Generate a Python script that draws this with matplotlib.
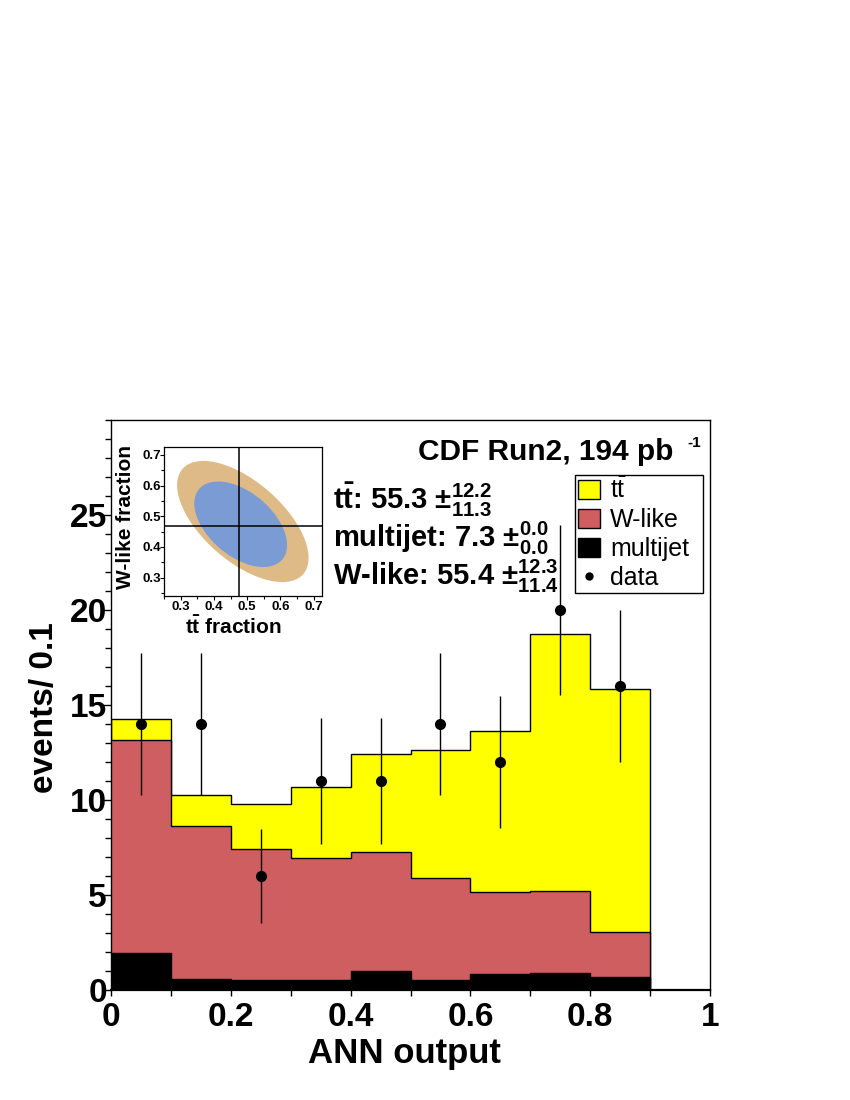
import numpy as np
import matplotlib
matplotlib.use("Agg")
import matplotlib.pyplot as plt
from matplotlib.patches import Ellipse, Patch
from matplotlib.lines import Line2D
from matplotlib.ticker import MultipleLocator, FixedLocator, FixedFormatter

plt.rcParams['font.family'] = ['Liberation Sans', 'DejaVu Sans']
plt.rcParams['mathtext.fontset'] = 'custom'
plt.rcParams['mathtext.rm'] = 'Liberation Sans:bold'
plt.rcParams['mathtext.bf'] = 'Liberation Sans:bold'
plt.rcParams['mathtext.it'] = 'Liberation Sans:bold'
plt.rcParams['mathtext.sf'] = 'Liberation Sans'
plt.rcParams['mathtext.default'] = 'rm'

# ANN output binning
bin_edges = [0.0, 0.1, 0.2, 0.3, 0.4, 0.5, 0.6, 0.7, 0.8, 0.9]
# fitted templates (events per bin), stacked multijet -> W-like -> ttbar
multijet = [1.95, 0.58, 0.54, 0.54, 1.02, 0.53, 0.83, 0.88, 0.67]
wlike = [11.23, 8.07, 6.89, 6.42, 6.26, 5.39, 4.32, 4.32, 2.37]
ttbar = [1.06, 1.63, 2.34, 3.71, 5.15, 6.70, 8.47, 13.52, 12.79]
# data
data_x = [0.05, 0.15, 0.25, 0.35, 0.45, 0.55, 0.65, 0.75, 0.85]
data_y = [14, 14, 6, 11, 11, 14, 12, 20, 16]
data_err = [3.74, 3.74, 2.45, 3.32, 3.32, 3.74, 3.46, 4.47, 4.00]

# fit results
fit_names = ["t$\\bar{t}$", "multijet", "W-like"]
fit_vals = ["55.3", "7.3", "55.4"]
fit_up = ["12.2", "0.0", "12.3"]
fit_dn = ["11.3", "0.0", "11.4"]

# likelihood contours in (ttbar fraction, W-like fraction)
best_tt = 0.474
best_w = 0.467
c2_center = (0.487, 0.483)
c2_axes = (0.50, 0.25)
c1_center = (0.4805, 0.474)
c1_axes = (0.34, 0.20)
c_angle = -45

col_tt = '#FFFF00'
col_w = '#CF5E60'
col_mj = '#000000'
col_c1 = '#7B9BD5'
col_c2 = '#DEBA87'

W, H = 850, 1100
def fx(x):
    return x / W
def fy(y):
    return 1 - y / H

fig = plt.figure(figsize=(8.5, 11), dpi=100)
ax = fig.add_axes([fx(111), fy(990), 599 / W, 570 / H])

mj = np.array(multijet)
wl = mj + np.array(wlike)
tot = wl + np.array(ttbar)
ax.stairs(tot, bin_edges, baseline=0, fill=True, facecolor=col_tt,
          edgecolor='black', linewidth=1.0, zorder=2)
ax.stairs(wl, bin_edges, baseline=0, fill=True, facecolor=col_w,
          edgecolor='black', linewidth=1.0, zorder=3)
ax.stairs(mj, bin_edges, baseline=0, fill=True, facecolor=col_mj,
          edgecolor='black', linewidth=1.0, zorder=4)
ax.errorbar(data_x, data_y, yerr=data_err, fmt='o', color='black',
            ms=7, elinewidth=1.0, capsize=0, zorder=5)

ax.set_xlim(0, 1)
ax.set_ylim(0, 30)
ax.xaxis.set_major_locator(FixedLocator([0, 0.2, 0.4, 0.6, 0.8, 1.0]))
ax.xaxis.set_major_formatter(FixedFormatter(['0', '0.2', '0.4', '0.6', '0.8', '1']))
ax.xaxis.set_minor_locator(MultipleLocator(0.1))
ax.yaxis.set_major_locator(FixedLocator([0, 5, 10, 15, 20, 25]))
ax.yaxis.set_minor_locator(MultipleLocator(1))
ax.tick_params(which='both', direction='out', top=False, right=False)
ax.tick_params(axis='x', which='major', length=4.5, width=1, pad=4,
               labelsize=24)
ax.tick_params(axis='x', which='minor', length=4.5, width=1)
ax.tick_params(axis='y', which='major', length=6, width=1, pad=-3,
               labelsize=24)
ax.tick_params(axis='y', which='minor', length=4.5, width=1)
for lab in ax.get_xticklabels() + ax.get_yticklabels():
    lab.set_fontweight('bold')
for s in ['left', 'right', 'top']:
    ax.spines[s].set_linewidth(1.0)
ax.spines['bottom'].set_linewidth(1.6)

fig.text(fx(404), fy(1063), "ANN output", ha='center', va='baseline',
         fontsize=25, fontweight='bold')
fig.text(fx(45), fy(708), "events/ 0.1", ha='center', va='center',
         rotation=90, fontsize=24, fontweight='bold')

# title
fig.text(fx(673), fy(460), "CDF Run2, 194 pb", ha='right', va='baseline',
         fontsize=21.5, fontweight='bold')
fig.text(fx(687), fy(447), "-1", ha='left', va='baseline',
         fontsize=11, fontweight='bold')

# fit summary
for i, base in enumerate([509, 547, 585]):
    s = "%s: %s $\\pm^{%s}_{%s}$" % (fit_names[i], fit_vals[i], fit_up[i], fit_dn[i])
    fig.text(fx(333), fy(base), s, ha='left', va='baseline',
             fontsize=21, fontweight='bold')

# legend
handles = [Patch(facecolor=col_tt, edgecolor='black', linewidth=1),
           Patch(facecolor=col_w, edgecolor='black', linewidth=1),
           Patch(facecolor=col_mj, edgecolor='black', linewidth=1),
           Line2D([], [], marker='o', color='black', linestyle='none', ms=5)]
labels = ["t$\\mathsf{\\bar{t}}$", "W-like", "multijet", "data"]
leg = ax.legend(handles, labels, loc='upper left', mode='expand',
                bbox_to_anchor=(fx(575), fy(592), 128 / W, 117 / H),
                bbox_transform=fig.transFigure,
                borderaxespad=0, fontsize=18, frameon=True, fancybox=False,
                framealpha=1, edgecolor='black', borderpad=0.1,
                handlelength=0.9, handleheight=0.75, handletextpad=0.4,
                labelspacing=0.2)
leg.get_frame().set_linewidth(1.0)
leg.set_zorder(10)

# inset: fit contours
axi = fig.add_axes([fx(164), fy(595.7), 157.7 / W, 149 / H])
axi.add_patch(Ellipse(c2_center, c2_axes[0], c2_axes[1], angle=c_angle,
                      facecolor=col_c2, edgecolor='none', zorder=1))
axi.add_patch(Ellipse(c1_center, c1_axes[0], c1_axes[1], angle=c_angle,
                      facecolor=col_c1, edgecolor='none', zorder=2))
axi.axvline(best_tt, color='black', linewidth=1.1, zorder=3)
axi.axhline(best_w, color='black', linewidth=1.1, zorder=3)
axi.set_xlim(0.25, 0.724)
axi.set_ylim(0.241, 0.727)
axi.xaxis.set_major_locator(FixedLocator([0.3, 0.4, 0.5, 0.6, 0.7]))
axi.yaxis.set_major_locator(FixedLocator([0.3, 0.4, 0.5, 0.6, 0.7]))
axi.xaxis.set_minor_locator(MultipleLocator(0.05))
axi.yaxis.set_minor_locator(MultipleLocator(0.05))
axi.tick_params(which='both', direction='out', top=False, right=False,
                width=0.8)
axi.tick_params(which='major', length=3, labelsize=9.5, pad=1)
axi.tick_params(which='minor', length=2)
axi.tick_params(axis='y', which='major', pad=-1)
for lab in axi.get_xticklabels() + axi.get_yticklabels():
    lab.set_fontweight('bold')
for s in axi.spines.values():
    s.set_linewidth(0.9)
fig.text(fx(233), fy(634), "t$\\bar{t}$ fraction", ha='center', va='baseline',
         fontsize=15, fontweight='bold')
fig.text(fx(126), fy(517), "W-like fraction", ha='center', va='center',
         rotation=90, fontsize=15, fontweight='bold')

fig.savefig("out.png", dpi=100)
